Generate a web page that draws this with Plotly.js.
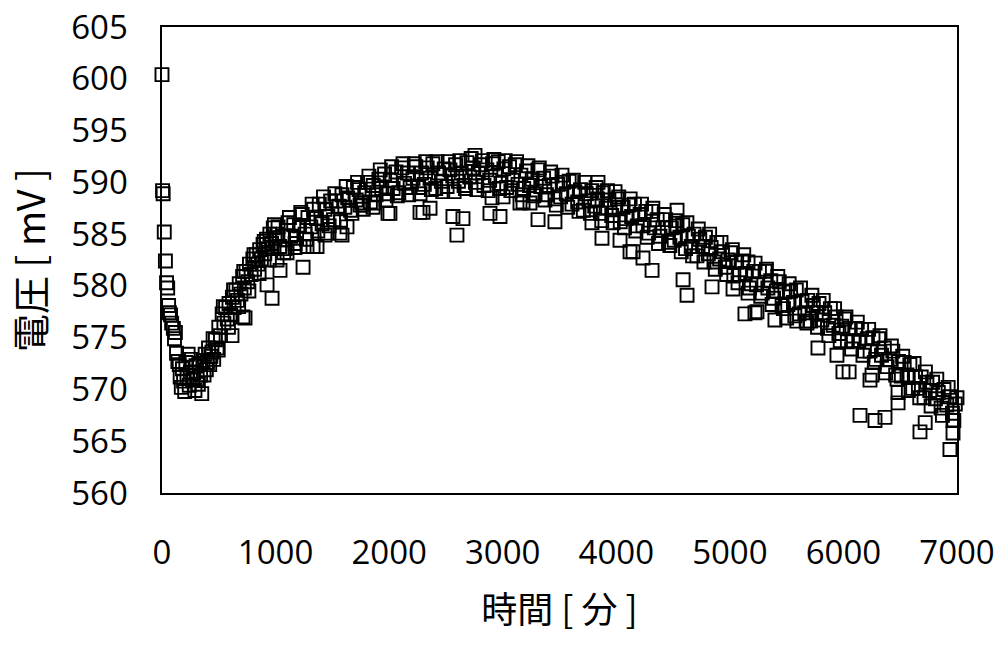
<!DOCTYPE html>
<html>
<head>
<meta charset="utf-8">
<script src="https://cdn.plot.ly/plotly-3.0.1.min.js"></script>
<style>
  html, body { margin: 0; padding: 0; background: #fff; }
  #chart { width: 1003px; height: 645px; }
</style>
</head>
<body>
<div id="chart"></div>
<script>
// Elapsed time [min] and measured cell voltage [mV]

// start-up: sharp drop after switching on, then the trough
const startTime = [0, 5, 10, 20, 30, 40, 50, 58, 65, 75, 85, 100, 110, 118, 128, 140, 152,
  160, 170, 180, 190, 200, 210, 220, 230, 240, 250, 260, 270, 280, 290, 300, 310, 320, 330,
  340, 350, 360, 370, 380, 390, 400, 410, 420, 430];
const startVolt = [600.4, 589.2, 588.9, 585.2, 582.4, 580.3, 579.8, 578.1, 577.4, 577.2, 576.4, 575.9, 574.9, 575.5, 573.5, 572.7, 572.4,
  571.2, 570.2, 572.0, 570.8, 569.8, 572.6, 571.1, 573.4, 570.4, 571.7, 572.9, 570.9, 571.6, 569.9, 572.3, 571.0, 570.5, 572.5,
  571.4, 569.6, 572.8, 571.4, 573.4, 571.9, 572.6, 574.0, 572.4, 573.2];

// recovery phase
const riseTime = [440, 450, 455, 470, 485, 495, 500, 515, 530, 540, 545, 560, 575, 585, 590, 605, 620, 630, 635, 650, 665, 675, 680, 695,
  710, 720, 725, 740, 755, 765, 770, 785, 800, 810, 815, 830, 845, 855, 860, 875, 890, 900, 905, 920, 935, 945, 950, 965, 980, 990, 995];
const riseVolt = [573.6, 574.9, 572.9, 574.8, 574.0, 573.8, 576.0, 575.2, 577.3, 578.0, 576.4, 577.9, 576.8, 576.0, 578.3, 577.2, 578.9, 579.6, 577.9, 579.6, 578.6, 578.0, 580.2, 579.2,
  580.9, 581.4, 579.8, 581.4, 580.4, 579.5, 582.1, 581.1, 582.6, 583.0, 581.6, 583.0, 582.1, 581.2, 583.5, 582.6, 584.0, 584.3, 583.1, 584.5, 583.6, 582.5, 585.0, 584.1, 585.6, 585.9, 584.6];

// main run, 25-minute logging
const runTime = [
  1010, 1035, 1060, 1085, 1110, 1135, 1160, 1185, 1210, 1235, 1260, 1285, 1310, 1335, 1360, 1385, 1410, 1435, 1460, 1485,
  1510, 1535, 1560, 1585, 1610, 1635, 1660, 1685, 1710, 1735, 1760, 1785, 1810, 1835, 1860, 1885, 1910, 1935, 1960, 1985,
  2010, 2035, 2060, 2085, 2110, 2135, 2160, 2185, 2210, 2235, 2260, 2285, 2310, 2335, 2360, 2385, 2410, 2435, 2460, 2485,
  2510, 2535, 2560, 2585, 2610, 2635, 2660, 2685, 2710, 2735, 2760, 2785, 2810, 2835, 2860, 2885, 2910, 2935, 2960, 2985,
  3010, 3035, 3060, 3085, 3110, 3135, 3160, 3185, 3210, 3235, 3260, 3285, 3310, 3335, 3360, 3385, 3410, 3435, 3460, 3485,
  3510, 3535, 3560, 3585, 3610, 3635, 3660, 3685, 3710, 3735, 3760, 3785, 3810, 3835, 3860, 3885, 3910, 3935, 3960, 3985,
  4010, 4035, 4060, 4085, 4110, 4135, 4160, 4185, 4210, 4235, 4260, 4285, 4310, 4335, 4360, 4385, 4410, 4435, 4460, 4485,
  4510, 4535, 4560, 4585, 4610, 4635, 4660, 4685, 4710, 4735, 4760, 4785, 4810, 4835, 4860, 4885, 4910, 4935, 4960, 4985,
  5010, 5035, 5060, 5085, 5110, 5135, 5160, 5185, 5210, 5235, 5260, 5285, 5310, 5335, 5360, 5385, 5410, 5435, 5460, 5485,
  5510, 5535, 5560, 5585, 5610, 5635, 5660, 5685, 5710, 5735, 5760, 5785, 5810, 5835, 5860, 5885, 5910, 5935, 5960, 5985,
  6010, 6035, 6060, 6085, 6110, 6135, 6160, 6185, 6210, 6235, 6260, 6285, 6310, 6335, 6360, 6385, 6410, 6435, 6460, 6485,
  6510, 6535, 6560, 6585, 6610, 6635, 6660, 6685, 6710, 6735, 6760, 6785, 6810, 6835, 6860, 6885, 6910, 6935, 6960, 6985];
const runVolt = [
  585.0, 583.8, 584.8, 583.6, 586.1, 584.8, 585.9, 584.6, 585.8, 586.9, 585.0, 586.6, 585.7, 587.4, 586.5, 587.9, 586.0, 587.4, 586.7, 588.2,
  586.4, 588.2, 587.7, 588.8, 587.6, 588.5, 587.3, 589.5, 588.3, 589.3, 588.0, 589.0, 590.0, 588.1, 589.7, 588.8, 590.3, 589.4, 590.8, 588.9,
  590.2, 589.4, 591.0, 589.0, 591.4, 589.9, 590.9, 589.5, 590.4, 591.5, 589.5, 590.9, 589.8, 591.4, 590.4, 591.8, 589.4, 590.9, 590.1, 591.3,
  589.6, 591.2, 590.6, 591.7, 590.1, 590.9, 589.7, 591.9, 590.5, 591.4, 590.0, 590.9, 591.7, 589.7, 591.2, 590.2, 591.8, 590.6, 592.0, 589.9,
  591.3, 589.5, 591.5, 590.2, 591.7, 589.8, 590.7, 589.4, 591.1, 589.7, 590.3, 588.9, 591.2, 589.6, 590.4, 588.8, 589.7, 590.6, 588.4, 589.8,
  588.6, 590.0, 588.9, 590.1, 587.9, 589.1, 588.1, 589.3, 587.3, 588.9, 588.2, 589.2, 587.7, 588.4, 587.0, 589.0, 587.5, 588.3, 586.8, 587.6,
  588.4, 586.2, 587.6, 586.5, 587.8, 586.7, 587.9, 585.8, 586.9, 585.8, 587.2, 585.1, 587.2, 585.6, 586.4, 584.8, 585.6, 586.4, 584.2, 585.6,
  584.4, 585.8, 584.7, 585.9, 583.6, 584.8, 583.8, 585.0, 582.9, 584.5, 583.8, 584.7, 583.1, 583.7, 582.3, 584.2, 582.6, 583.3, 581.8, 582.5,
  583.2, 581.0, 582.3, 581.1, 582.4, 581.2, 582.3, 580.2, 581.4, 580.1, 581.4, 579.3, 581.4, 579.8, 580.5, 578.8, 579.5, 580.4, 578.1, 579.4,
  578.2, 579.5, 578.4, 579.6, 577.3, 578.5, 577.4, 578.6, 576.6, 578.1, 577.4, 578.3, 576.7, 577.4, 575.9, 577.8, 576.2, 577.0, 575.4, 576.1,
  576.8, 574.6, 575.9, 574.7, 575.9, 574.7, 575.8, 573.7, 574.9, 573.7, 575.0, 572.9, 574.9, 573.3, 574.0, 572.2, 572.9, 573.7, 571.4, 572.7,
  571.3, 572.6, 571.4, 572.4, 570.1, 571.2, 570.1, 571.2, 569.2, 570.7, 569.9, 570.7, 569.1, 569.7, 568.2, 570.0, 568.5, 569.3, 567.7, 568.6];

// second logger channel, 50-minute logging
const auxTime = [
  1022, 1072, 1122, 1172, 1222, 1272, 1322, 1372, 1422, 1472, 1522, 1572, 1622, 1672, 1722, 1772, 1822, 1872, 1922, 1972,
  2022, 2072, 2122, 2172, 2222, 2272, 2322, 2372, 2422, 2472, 2522, 2572, 2622, 2672, 2722, 2772, 2822, 2872, 2922, 2972,
  3022, 3072, 3122, 3172, 3222, 3272, 3322, 3372, 3422, 3472, 3522, 3572, 3622, 3672, 3722, 3772, 3822, 3872, 3922, 3972,
  4022, 4072, 4122, 4172, 4222, 4272, 4322, 4372, 4422, 4472, 4522, 4572, 4622, 4672, 4722, 4772, 4822, 4872, 4922, 4972,
  5022, 5072, 5122, 5172, 5222, 5272, 5322, 5372, 5422, 5472, 5522, 5572, 5622, 5672, 5722, 5772, 5822, 5872, 5922, 5972,
  6022, 6072, 6122, 6172, 6222, 6272, 6322, 6372, 6422, 6472, 6522, 6572, 6622, 6672, 6722, 6772, 6822, 6872, 6922, 6972];
const auxVolt = [
  585.7, 583.2, 586.6, 584.1, 587.1, 584.5, 587.9, 585.3, 588.6, 585.8, 588.9, 586.2, 589.6, 587.0, 590.0, 587.4, 590.6, 588.0, 591.2, 588.3,
  591.5, 588.7, 591.8, 588.8, 591.8, 588.9, 592.0, 589.3, 592.0, 589.1, 592.0, 589.1, 592.1, 589.4, 592.3, 589.3, 592.1, 589.2, 592.2, 589.4,
  592.1, 589.2, 592.0, 588.8, 591.6, 588.7, 591.4, 588.3, 591.0, 587.8, 590.7, 587.6, 590.2, 587.2, 590.0, 587.0, 589.5, 586.3, 589.2, 586.1,
  588.6, 585.6, 588.4, 585.3, 587.9, 584.7, 587.5, 584.1, 586.9, 583.9, 586.3, 583.3, 586.1, 582.9, 585.5, 582.3, 585.0, 581.6, 584.2, 581.1,
  583.5, 580.3, 583.0, 579.8, 582.2, 579.0, 581.6, 578.2, 580.9, 577.8, 580.2, 577.1, 579.8, 576.6, 579.1, 576.0, 578.6, 575.2, 577.8, 574.7,
  577.0, 573.9, 576.5, 573.3, 575.8, 572.6, 575.2, 571.6, 574.2, 571.0, 573.2, 569.9, 572.5, 569.2, 571.7, 568.4, 571.0, 567.5, 570.2, 567.0];

// readings that fell off the main trend
const strayTime = [616, 713, 731, 925, 969, 1013, 1039, 1101, 1171, 1242, 1277, 1330, 1365, 1435, 1453, 1567, 1585, 1629,
  1744, 1770, 1858, 1990, 2007, 2272, 2298, 2360, 2562, 2597, 2650, 2756, 2888, 2906, 2976, 3003, 3152, 3179, 3240,
  3311, 3460, 3786, 3839, 3874, 3989, 4033, 4121, 4148, 4235, 4315, 4535, 4588, 4623, 4843, 5028, 5133, 5160, 5221,
  5239, 5397, 5500, 5590, 5679, 5776, 5943, 5996, 6050, 6146, 6234, 6252, 6278, 6366, 6481, 6481, 6674, 6720, 6938,
  6965, 6965, 7000];
const strayVolt = [575.2, 577.0, 576.9, 580.1, 578.8, 582.5, 581.5, 583.2, 583.7, 581.8, 583.8, 583.8, 583.8, 584.9, 585.1, 585.1, 584.9, 585.7,
  587.8, 587.8, 587.6, 587.0, 587.0, 587.1, 587.1, 587.5, 586.7, 584.9, 586.5, 592.6, 587.0, 588.5, 586.7, 588.6, 588.0, 588.1, 588.0,
  586.4, 586.2, 586.1, 590.0, 584.6, 589.1, 584.4, 583.3, 583.3, 582.7, 581.5, 587.3, 580.6, 579.1, 579.9, 579.7, 577.3, 579.3, 577.4,
  577.5, 576.7, 576.9, 576.6, 576.4, 574.0, 573.3, 571.7, 571.7, 567.5, 570.9, 571.4, 567.0, 567.3, 569.7, 568.7, 565.9, 566.8, 564.2,
  565.8, 567.0, 569.2];

const time = [].concat(startTime, riseTime, runTime, auxTime, strayTime);
const volt = [].concat(startVolt, riseVolt, runVolt, auxVolt, strayVolt);

const trace = {
  x: time,
  y: volt,
  type: 'scatter',
  mode: 'markers',
  cliponaxis: false,
  marker: {
    symbol: 'square-open',
    size: 13,
    color: '#000',
    line: { color: '#000', width: 1.9 }
  },
  hoverinfo: 'x+y'
};

const tickFont = { family: 'Open Sans, Noto Sans, sans-serif', size: 33, color: '#000' };

const layout = {
  width: 1003,
  height: 645,
  margin: { l: 162, r: 46, t: 27, b: 152 },
  paper_bgcolor: '#fff',
  plot_bgcolor: '#fff',
  showlegend: false,
  xaxis: {
    range: [0, 7000],
    tickvals: [0, 1000, 2000, 3000, 4000, 5000, 6000, 7000],
    ticks: '',
    ticklabelstandoff: 30,
    tickfont: tickFont,
    showgrid: false,
    zeroline: false,
    showline: true,
    mirror: true,
    linecolor: '#000',
    linewidth: 1.6,
    title: { text: '時間 [ 分 ]', font: { family: 'Noto Sans CJK JP, sans-serif', size: 36, color: '#000' }, standoff: 24 }
  },
  yaxis: {
    range: [560, 605],
    tickvals: [560, 565, 570, 575, 580, 585, 590, 595, 600, 605],
    ticks: '',
    ticklabelstandoff: 26,
    tickfont: tickFont,
    showgrid: false,
    zeroline: false,
    showline: true,
    mirror: true,
    linecolor: '#000',
    linewidth: 1.6,
    title: { text: '電圧 [ mV ]', font: { family: 'Noto Sans CJK JP, sans-serif', size: 38, color: '#000' }, standoff: 14 }
  }
};

Plotly.newPlot('chart', [trace], layout, { staticPlot: true, displayModeBar: false });
</script>
</body>
</html>
